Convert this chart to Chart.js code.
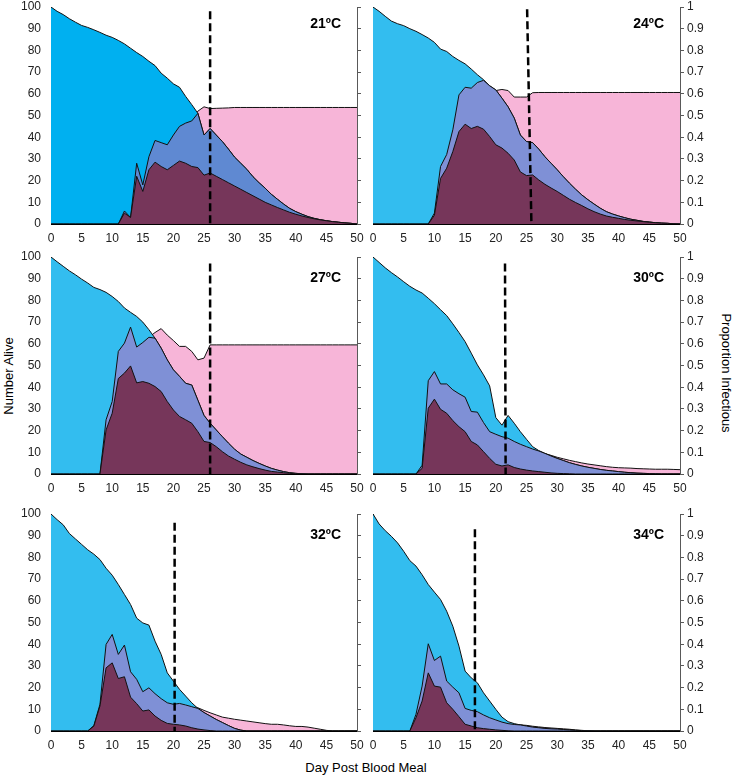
<!DOCTYPE html>
<html>
<head>
<meta charset="utf-8">
<script src="https://cdn.jsdelivr.net/npm/chart.js@4/dist/chart.umd.min.js"></script>
<style>
  body { margin: 0; background: #fff; font-family: "Liberation Sans", Arial, sans-serif; }
  #wrap { position: relative; width: 732px; height: 777px; overflow: hidden; }
  .panel { position: absolute; width: 366px; height: 250px; }
  .temp { position: absolute; font-weight: bold; font-size: 14px; color: #000; white-space: nowrap; }
  .title { position: absolute; font-size: 13px; color: #000; white-space: nowrap; }
</style>
</head>
<body>
<div id="wrap">
  <div class="title" id="xTitle" style="left:0;width:732px;text-align:center;top:760px;">Day Post Blood Meal</div>
  <div class="title" style="left:8px;top:376px;transform:translate(-50%,-50%) rotate(-90deg);">Number Alive</div>
  <div class="title" style="left:726px;top:373px;transform:translate(-50%,-50%) rotate(90deg);">Proportion Infectious</div>
</div>
<script>
// Data (day 0..50)
const days = [0,1,2,3,4,5,6,7,8,9,10,11,12,13,14,15,16,17,18,19,20,21,22,23,24,25,26,27,28,29,30,31,32,33,34,35,36,37,38,39,40,41,42,43,44,45,46,47,48,49,50];
const temps = ['21ºC', '24ºC', '27ºC', '30ºC', '32ºC', '34ºC'];
const xTicks = [0, 5, 10, 15, 20, 25, 30, 35, 40, 45, 50];

// dashed cut-off line: day at top, day at bottom, top value
const dashTopX = [26, 25.1, 26, 21.5, 20.2, 16.6];
const dashBottomX = [26, 25.8, 26, 21.6, 20.2, 16.6];
const dashTopY = [98, 99, 97, 97, 96, 93];

// 21ºC
const alive21 = [100,98,96.5,94.6,93,91.5,90.6,89.5,88.3,87,86, 84.6,83,81,79,77.2,75,73,69.5,67.2,64.6, 63,58.8,55,51,41,44,41,38,34.5,30.8, 28,25.2,21.8,19,16.5,13.7,11.4,9.2,7.2,5.7, 4.5,3.4,2.6,2,1.5,1.1,0.8,0.5,0.3,0];
const infected21 = [0,0,0,0,0,0,0,0,0,0,0, 0,6,3,28,18,31,38.5,37.5,36.5,41, 45,46.5,47.5,51,41,44,41,38,34.5,30.8, 28,25.2,21.8,19,16.5,13.7,11.4,9.2,7.2,5.7, 4.5,3.4,2.6,2,1.5,1.1,0.8,0.5,0.3,0];
const infectious21 = [0,0,0,0,0,0,0,0,0,0,0, 0,5,3,22,15,25,28.5,26.5,25,27, 29,28,26.5,26,22.5,23.5,22,20.5,19,17.5, 16,14.5,13,11.5,10,8.8,7.6,6.5,5.4,4.5, 3.7,3,2.4,1.9,1.5,1.1,0.8,0.5,0.3,0];
const propInf21 = [0,0,0,0,0,0,0,0,0,0,0, 0,0.06,0.04,0.28,0.19,0.33,0.39,0.38,0.37,0.42, 0.46,0.48,0.49,0.52,0.54,0.532,0.533,0.534,0.535,0.537, 0.537,0.537,0.537,0.537,0.537,0.537,0.537,0.537,0.537,0.537, 0.537,0.537,0.537,0.537,0.537,0.537,0.537,0.537,0.537,0.537];

// 24ºC
const alive24 = [100,98,95.7,93.5,92.3,91.4,90,88.8,87.3,85.7,83.7, 80.6,79.5,77.2,75.4,73.8,71.4,68.8,66.5,63.7,61.8, 58,54,48.8,41,38,37.5,34.5,31,28,25, 21.8,18.8,16,13.4,11.2,9.2,7.3,5.7,4.6,3.7, 2.9,2.2,1.7,1.2,0.9,0.6,0.4,0.3,0.1,0];
const infected24 = [0,0,0,0,0,0,0,0,0,0,5, 26.5,32,43.4,59.5,63,62.6,65.2,66.2,63.7,61.8, 58,54,48.8,41,38,37.5,34.5,31,28,25, 21.8,18.8,16,13.4,11.2,9.2,7.3,5.7,4.6,3.7, 2.9,2.2,1.7,1.2,0.9,0.6,0.4,0.3,0.1,0];
const infectious24 = [0,0,0,0,0,0,0,0,0,0,4, 21,25.7,33.4,42.6,46,44,45,43.7,40.3,36.5, 35,32.6,29.5,24,22.3,22.6,20.3,18.3,16.6,15, 13.2,11.4,9.9,8.5,7,5.7,4.6,3.7,3.1,2.6, 2.1,1.7,1.4,1.1,0.8,0.6,0.4,0.3,0.1,0];
const propInf24 = [0,0,0,0,0,0,0,0,0,0,0.05, 0.26,0.32,0.43,0.56,0.62,0.62,0.65,0.655,0.635,0.615, 0.62,0.615,0.585,0.585,0.585,0.605,0.606,0.606,0.606,0.606, 0.606,0.606,0.606,0.606,0.606,0.606,0.606,0.606,0.606,0.606, 0.606,0.606,0.606,0.606,0.606,0.606,0.606,0.606,0.606,0.606];

// 27ºC
const alive27 = [100,97.8,95.7,93.6,91.8,89.8,88,86,85,83.7,81.8, 79.5,76.5,74.5,72.6,70,66.5,62.6,58,52.6,48, 45,41.8,41,34,27,23.4,20.3,17.2,14.2,11.4, 9.2,7.7,6.2,4.9,3.7,2.6,1.8,1.1,0.6,0.3, 0.1,0,0,0,0,0,0,0,0,0];
const infected27 = [0,0,0,0,0,0,0,0,0,25,33.4, 56.5,60.3,67.7,58.5,60.6,63,62.6,58,52.6,48, 45,41.8,41,34,27,23.4,20.3,17.2,14.2,11.4, 9.2,7.7,6.2,4.9,3.7,2.6,1.8,1.1,0.6,0.3, 0.1,0,0,0,0,0,0,0,0,0];
const infectious27 = [0,0,0,0,0,0,0,0,0,20.3,28, 44,46.5,49.8,42,42.6,41.8,40.3,38,33.4,29.5, 26.5,25,23.4,19.5,15,14.5,12.6,10.3,8.3,6.8, 5.4,4.2,3.3,2.5,1.8,1.2,0.9,0.6,0.3,0.1, 0,0,0,0,0,0,0,0,0,0];
const propInf27 = [0,0,0,0,0,0,0,0,0,0.24,0.34, 0.55,0.61,0.67,0.58,0.61,0.63,0.652,0.67,0.64,0.615, 0.588,0.588,0.565,0.526,0.534,0.595,0.595,0.595,0.595,0.595, 0.595,0.595,0.595,0.595,0.595,0.595,0.595,0.595,0.595,0.595, 0.595,0.595,0.595,0.595,0.595,0.595,0.595,0.595,0.595,0.595];

// 30ºC
const alive30 = [100,97.5,95,92.8,90.8,88.6,86.5,84.8,83.4,81,78.5, 75.7,73,69.2,65.2,61,55.7,50.3,45.7,40.6,26, 22.5,27,23.4,19.5,16,12.6,10.8,9.5,8.3,7.2, 6.2,5.2,4.4,3.7,3.1,2.6,2.1,1.7,1.4,1.1, 0.8,0.6,0.4,0.3,0.2,0.1,0,0,0,0];
const infected30 = [0,0,0,0,0,0,0,0,4,43,47.2, 41.5,41.5,38.8,37,35.4,28.8,28.5,23.7,19.5,18.3, 17.2,16.5,15,13.7,12.6,11.5,10.6,9.5,8.3,7.2, 6.2,5.2,4.4,3.7,3.1,2.6,2.1,1.7,1.4,1.1, 0.8,0.6,0.4,0.3,0.2,0.1,0,0,0,0];
const infectious30 = [0,0,0,0,0,0,0,0,2.6,30.3,34.5, 29.8,28,24.6,21.8,19.5,15,13.4,10.3,7.2,4.5, 3.7,4.2,3,2.3,1.8,1.4,1.1,0.8,0.5,0.3, 0.2,0.1,0,0,0,0,0,0,0,0, 0,0,0,0,0,0,0,0,0,0];
const propInf30 = [0,0,0,0,0,0,0,0,0.03,0.37,0.44, 0.39,0.38,0.36,0.33,0.32,0.27,0.27,0.23,0.18,0.17, 0.16,0.16,0.13,0.12,0.11,0.105,0.1,0.094,0.086,0.077, 0.07,0.063,0.057,0.051,0.046,0.042,0.038,0.034,0.031,0.029, 0.028,0.027,0.025,0.024,0.023,0.022,0.022,0.022,0.021,0.02];

// 32ºC
const alive32 = [100,97.4,95,91,88.5,86,83.5,81.5,79,75,71.8, 67.5,62.9,58.3,52,49.8,48.8,41.4,35.3,26.8,23, 19.2,16.1,13,10.4,8.5,6.9,5.3,3.9,2.5,1.2, 0.4,0,0,0,0,0,0,0,0,0, 0,0,0,0,0,0,0,0,0,0];
const infected32 = [0,0,0,0,0,0,0,2.5,12.3,39.9,44.5, 35.3,39.6,27.3,23.8,18.1,19.9,17.2,14.9,13,12.3, 12.7,12,11.2,10.4,8.5,6.9,5.3,3.9,2.5,1.2, 0.4,0,0,0,0,0,0,0,0,0, 0,0,0,0,0,0,0,0,0,0];
const infectious32 = [0,0,0,0,0,0,0,2.2,11.5,29.1,31.4, 24.2,25,15.6,12.6,9.2,9.7,6.9,4.9,3.5,3.1, 2.8,2.3,1.5,0.9,0.5,0.2,0,0,0,0, 0,0,0,0,0,0,0,0,0,0, 0,0,0,0,0,0,0,0,0,0];
const propInf32 = [0,0,0,0,0,0,0,0.03,0.15,0.39,0.44, 0.36,0.4,0.27,0.24,0.18,0.2,0.17,0.14,0.13,0.13, 0.146,0.14,0.115,0.107,0.095,0.084,0.074,0.064,0.059,0.054, 0.05,0.046,0.042,0.038,0.034,0.031,0.031,0.028,0.024,0.021, 0.021,0.018,0.013,0.008,0.003,0,0,0,0,0];

// 34ºC
const alive34 = [100,95.4,92.3,89.7,86.7,82.8,78.5,76,72,67.5,64, 60.6,55.2,48.3,39.1,27.6,24.5,22.2,17.6,13.8,10, 6.4,4.3,3.4,2.8,2.3,1.8,1.5,1.2,1,0.9, 0.7,0.5,0.3,0.2,0.1,0,0,0,0,0, 0,0,0,0,0,0,0,0,0,0];
const infected34 = [0,0,0,0,0,0,0,7.7,20.7,40.2,32.5, 34.5,23,20.2,17.6,10.4,9.5,8.9,7.4,6.1,5.1, 4.1,3.4,3,2.8,2.3,1.8,1.5,1.2,1,0.9, 0.7,0.5,0.3,0.2,0.1,0,0,0,0,0, 0,0,0,0,0,0,0,0,0,0];
const infectious34 = [0,0,0,0,0,0,0,6.1,13.8,26.8,20.7, 20.2,13,10,6.6,3.1,2.3,1.5,1.1,0.8,0.5, 0.3,0.1,0,0,0,0,0,0,0,0, 0,0,0,0,0,0,0,0,0,0, 0,0,0,0,0,0,0,0,0,0];
const propInf34 = [0,0,0,0,0,0,0,0.08,0.19,0.4,0.32, 0.33,0.24,0.21,0.17,0.11,0.09,0.07,0.06,0.058,0.05, 0.047,0.035,0.03,0.028,0.026,0.022,0.019,0.016,0.014,0.012, 0.01,0.008,0.005,0.003,0.001,0,0,0,0,0, 0,0,0,0,0,0,0,0,0,0];

const panels = [
  { alive: alive21, infected: infected21, infectious: infectious21, prop: propInf21, cyan: '#00b0f0', lav: '#5f89d2' },
  { alive: alive24, infected: infected24, infectious: infectious24, prop: propInf24, cyan: '#33bdef', lav: '#7f90d6' },
  { alive: alive27, infected: infected27, infectious: infectious27, prop: propInf27, cyan: '#33bdef', lav: '#7f90d6' },
  { alive: alive30, infected: infected30, infectious: infectious30, prop: propInf30, cyan: '#33bdef', lav: '#7f90d6' },
  { alive: alive32, infected: infected32, infectious: infectious32, prop: propInf32, cyan: '#33bdef', lav: '#7f90d6' },
  { alive: alive34, infected: infected34, infectious: infectious34, prop: propInf34, cyan: '#33bdef', lav: '#7f90d6' }
];

const rowTops = [0, 250, 507];
const tempOffsets = [15, 19, 19];
const FONT = { family: '"Liberation Sans", Arial, sans-serif', size: 12 };

function toPoints(values) {
  return days.map((d, i) => ({ x: d, y: values[i] }));
}

function areaSet(values, color, order, axis) {
  return {
    data: toPoints(values),
    yAxisID: axis,
    order,
    borderColor: '#111',
    borderWidth: 1,
    backgroundColor: color,
    fill: 'origin',
    pointRadius: 0,
    tension: 0
  };
}

function buildPanel(p, idx) {
  const col = idx % 2;
  const row = Math.floor(idx / 2);
  const wrap = document.getElementById('wrap');

  const div = document.createElement('div');
  div.className = 'panel';
  div.style.left = (col * 366) + 'px';
  div.style.top = rowTops[row] + 'px';
  const canvas = document.createElement('canvas');
  canvas.width = 366;
  canvas.height = 250;
  div.appendChild(canvas);

  const label = document.createElement('div');
  label.className = 'temp';
  label.textContent = temps[idx];
  label.style.right = (col === 0 ? 25 : 68) + 'px';
  label.style.top = tempOffsets[row] + 'px';
  div.appendChild(label);
  wrap.appendChild(div);

  new Chart(canvas.getContext('2d'), {
    type: 'line',
    data: {
      datasets: [
        {
          data: [{ x: dashTopX[idx], y: dashTopY[idx] }, { x: dashBottomX[idx], y: 0 }],
          yAxisID: 'y',
          order: 0,
          borderColor: '#000',
          borderWidth: 2.5,
          borderDash: [8, 4],
          fill: false,
          pointRadius: 0
        },
        areaSet(p.infectious, '#76365a', 1, 'y'),
        areaSet(p.infected, p.lav, 2, 'y'),
        areaSet(p.alive, p.cyan, 3, 'y'),
        areaSet(p.prop, '#f7b5d8', 4, 'y2')
      ]
    },
    options: {
      responsive: false,
      animation: false,
      layout: { padding: { top: 7, left: 0, right: 0, bottom: 0 } },
      plugins: { legend: { display: false }, tooltip: { enabled: false } },
      scales: {
        x: {
          type: 'linear',
          min: 0,
          max: 50,
          afterBuildTicks: s => { s.ticks = xTicks.map(v => ({ value: v })); },
          ticks: { color: '#222', font: FONT, padding: 7, maxRotation: 0, autoSkip: false },
          grid: { display: false, drawTicks: false },
          border: { color: '#000', width: 1 },
          afterFit: s => { s.height = 26; s.paddingLeft = 0; s.paddingRight = 0; }
        },
        y: {
          position: 'left',
          min: 0,
          max: 100,
          ticks: { stepSize: 10, display: col === 0, color: '#222', font: FONT, padding: 10 },
          grid: { display: false, drawTicks: false },
          border: { color: '#000', width: 1 },
          afterFit: s => { s.width = col === 0 ? 51 : 7; s.paddingTop = 0; s.paddingBottom = 0; }
        },
        y2: {
          position: 'right',
          min: 0,
          max: 1,
          ticks: {
            stepSize: 0.1,
            display: col === 1,
            color: '#222',
            font: FONT,
            padding: 3,
            callback: v => String(Math.round(v * 10) / 10)
          },
          grid: { display: true, drawOnChartArea: false, drawTicks: true, tickLength: 4, color: '#595959' },
          border: { color: '#595959', width: 1 },
          afterFit: s => { s.width = col === 0 ? 9 : 52; s.paddingTop = 0; s.paddingBottom = 0; }
        }
      }
    }
  });
}

panels.forEach(buildPanel);
</script>
</body>
</html>
